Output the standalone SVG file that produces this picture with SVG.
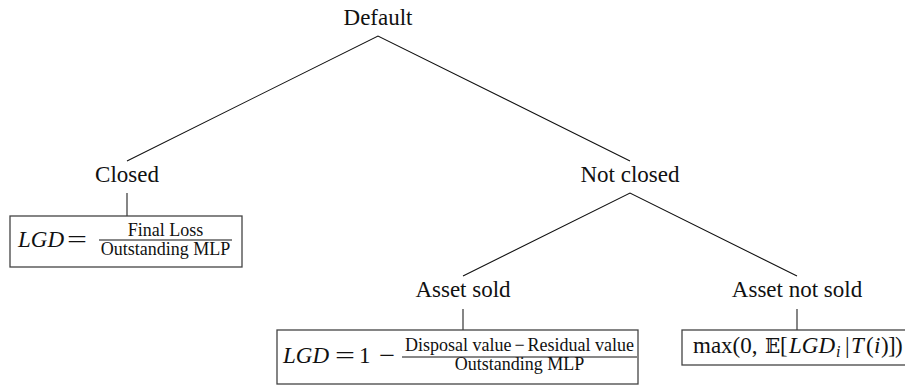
<svg xmlns="http://www.w3.org/2000/svg" width="905" height="385" viewBox="0 0 905 385" font-family="'Liberation Serif', 'DejaVu Serif', serif">
<style>
text{font-family:'Liberation Serif','DejaVu Serif',serif;fill:#111}
.lbl{font-size:23px;text-anchor:middle}
.m{font-size:23px}
.it{font-style:italic}
.fr{font-size:18px;text-anchor:middle}
.edge{stroke:#111;stroke-width:1.1;fill:none}
.stem{stroke:#444;stroke-width:1.3;fill:none}
.box{stroke:#444;stroke-width:1.3;fill:#fff}
.bar{stroke:#111;stroke-width:1}
</style>
<g id="connectors">
<path class="edge" d="M127,161 L378,36 L630,161"/>
<path class="edge" d="M463,276 L630,193 L797,276"/>
<path class="stem" d="M127,193 V216"/>
<path class="stem" d="M463,309 V330"/>
<path class="stem" d="M797,309 V330"/>
</g>
<g id="default"><text class="lbl" x="378" y="25">Default</text></g>
<g id="closed"><text class="lbl" x="127" y="182">Closed</text></g>
<g id="notclosed"><text class="lbl" x="630" y="182">Not closed</text></g>
<g id="assetsold"><text class="lbl" x="463" y="297">Asset sold</text></g>
<g id="assetnotsold"><text class="lbl" x="797" y="297">Asset not sold</text></g>
<g id="box-closed">
<rect class="box" x="10" y="216" width="232" height="51"/>
<text class="m it" x="18" y="247">LGD</text>
<text class="m" x="67" y="247" textLength="20" lengthAdjust="spacingAndGlyphs">=</text>
<text class="fr" x="165.5" y="236">Final Loss</text>
<line class="bar" x1="99" y1="240" x2="232" y2="240"/>
<text class="fr" x="165.5" y="255">Outstanding MLP</text>
</g>
<g id="box-sold">
<rect class="box" x="277" y="330" width="361" height="54"/>
<text class="m it" x="283" y="363">LGD</text>
<text class="m" x="335" y="363" textLength="20" lengthAdjust="spacingAndGlyphs">=</text>
<text class="m" x="359" y="363">1</text>
<text class="m" x="379" y="363" textLength="16" lengthAdjust="spacingAndGlyphs">−</text>
<text class="fr" x="519.5" y="351">Disposal value<tspan dx="3">−</tspan><tspan dx="3">Residual value</tspan></text>
<line class="bar" x1="402" y1="357" x2="637" y2="357"/>
<text class="fr" x="519.5" y="370">Outstanding MLP</text>
</g>
<g id="box-notsold">
<rect class="box" x="682" y="330" width="226" height="35"/>
<text class="m" x="693" y="353">max(0,<tspan x="765" style="font-family:'DejaVu Serif','DejaVu Sans',serif" font-size="20">𝔼</tspan><tspan x="780">[</tspan><tspan class="it" x="789">LGD</tspan><tspan class="it" x="836" font-size="16" dy="4">i</tspan><tspan x="845" dy="-4">|</tspan><tspan class="it" x="851">T</tspan><tspan x="866">(</tspan><tspan class="it" x="874">i</tspan><tspan x="881">)</tspan><tspan x="888">]</tspan><tspan x="895">)</tspan></text>
</g>
</svg>
